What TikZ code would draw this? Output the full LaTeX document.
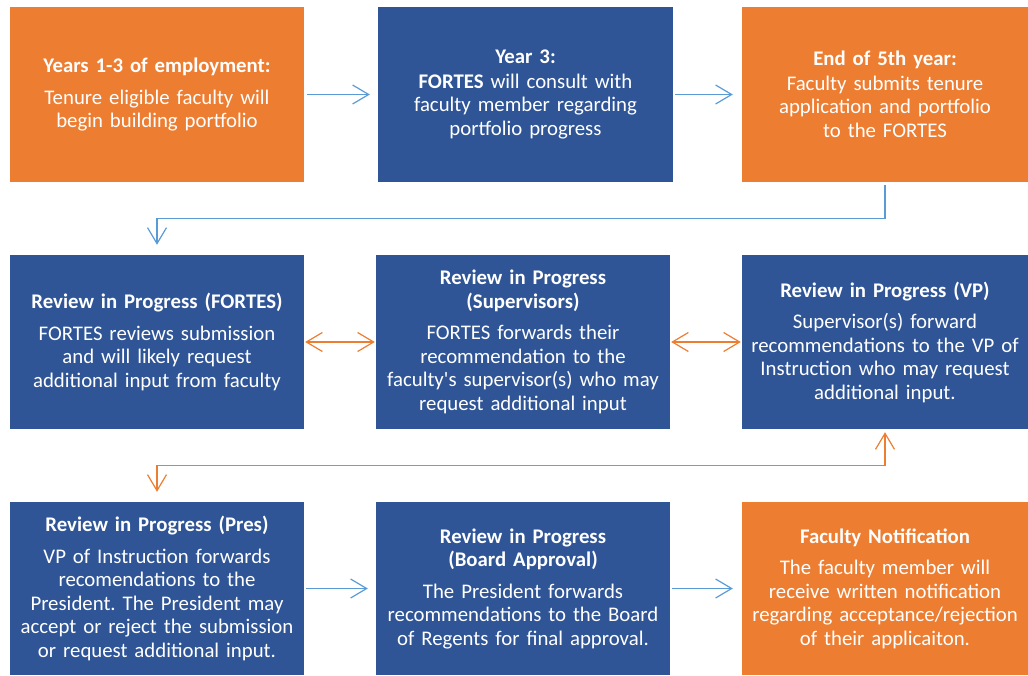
\documentclass[tikz,border=0pt]{standalone}
\usepackage{fontspec}
\setmainfont{Carlito}
\usepackage{tikz}
\usetikzlibrary{arrows.meta,positioning}
\definecolor{stageorange}{HTML}{ED7D31}
\definecolor{stageblue}{HTML}{2F5597}
\definecolor{linkblue}{HTML}{5B9BD5}
\frenchspacing

\tikzset{
  stagebox/.style={rectangle,draw=none,text=white,align=center,
    text width=282pt,minimum height=175pt,inner sep=0pt,
    font=\fontsize{20.8}{23.5}\selectfont},
  orangebox/.style={stagebox,fill=stageorange},
  bluebox/.style={stagebox,fill=stageblue},
  flowarrow/.style={draw=linkblue,line width=1.2pt,-{Straight Barb[length=16pt,width=19pt]}},
  backarrow/.style={draw=stageorange,line width=1.2pt,
    {Straight Barb[length=16pt,width=19pt]}-{Straight Barb[length=16pt,width=19pt]}}
}

\begin{document}
\begin{tikzpicture}[x=1pt,y=-1pt]
  \useasboundingbox (0,0) rectangle (1028,675);
  \def\colw{294pt}
  \def\lastw{286pt}

  % First row: building the portfolio.
  \node[orangebox,minimum width=\colw] (years) at (157,94.5)
    {\textbf{Years 1-3 of employment:}\\[8pt]
     Tenure eligible faculty will\\begin building portfolio};
  \node[bluebox,minimum width=295pt] (year3) at (525.5,94.5)
    {\textbf{Year 3:}\\[1pt]
     \textbf{FORTES} will consult with\\faculty member regarding\\portfolio progress};
  \node[orangebox,minimum width=\lastw] (submit) at (885,94.5)
    {\textbf{End of 5th year:}\\[1pt]
     Faculty submits tenure\\application and portfolio\\to the FORTES};

  % Second row: the reviews.
  \node[bluebox,minimum width=\colw,minimum height=174pt] (fortes) at (157,342)
    {\textbf{Review in Progress (FORTES)}\\[8pt]
     FORTES reviews submission\\and will likely request\\additional input from faculty};
  \node[bluebox,minimum width=\colw,minimum height=174pt] (superv) at (523,342)
    {\textbf{Review in Progress}\\\textbf{(Supervisors)}\\[8pt]
     FORTES forwards their\\recommendation to the\\faculty\textquotesingle s supervisor(s) who may\\request additional input};
  \node[bluebox,minimum width=\lastw,minimum height=174pt] (vp) at (885,342)
    {\textbf{Review in Progress (VP)}\\[8pt]
     Supervisor(s) forward\\recommendations to the VP of\\Instruction who may request\\additional input.};

  % Third row: president, board and notification.
  \node[bluebox,minimum width=\colw,minimum height=173pt] (pres) at (157,588.5)
    {\textbf{Review in Progress (Pres)}\\[8pt]
     VP of Instruction forwards\\recomendations to the\\President. The President may\\accept or reject the submission\\or request additional input.};
  \node[bluebox,minimum width=\colw,minimum height=173pt] (board) at (523,588.5)
    {\textbf{Review in Progress}\\\textbf{(Board Approval)}\\[8pt]
     The President forwards\\recommendations to the Board\\of Regents for final approval.};
  \node[orangebox,minimum width=\lastw,minimum height=173pt] (notify) at (885,588.5)
    {\textbf{Faculty Notification}\\[8pt]
     The faculty member will\\receive written notification\\regarding acceptance/rejection\\of their applicaiton.};

  % Connectors.
  \draw[flowarrow] ([xshift=3pt]years.east) -- ([xshift=-8pt]year3.west);
  \draw[flowarrow] ([xshift=2pt]year3.east) -- ([xshift=-9pt]submit.west);
  \draw[flowarrow] ([yshift=-3pt]submit.south) -- ++(0,33)
    -| ([yshift=10pt]fortes.north);
  \draw[backarrow] ([xshift=1pt]fortes.east) -- ([xshift=-1pt]superv.west);
  \draw[backarrow] ([xshift=1pt]superv.east) -- ([xshift=-1pt]vp.west);
  \draw[backarrow] ([yshift=-3pt]vp.south) -- ++(0,33)
    -| ([yshift=10pt]pres.north);
  \draw[flowarrow] ([xshift=2pt]pres.east) -- ([xshift=-8pt]board.west);
  \draw[flowarrow] ([xshift=2pt]board.east) -- ([xshift=-9pt]notify.west);
\end{tikzpicture}
\end{document}
